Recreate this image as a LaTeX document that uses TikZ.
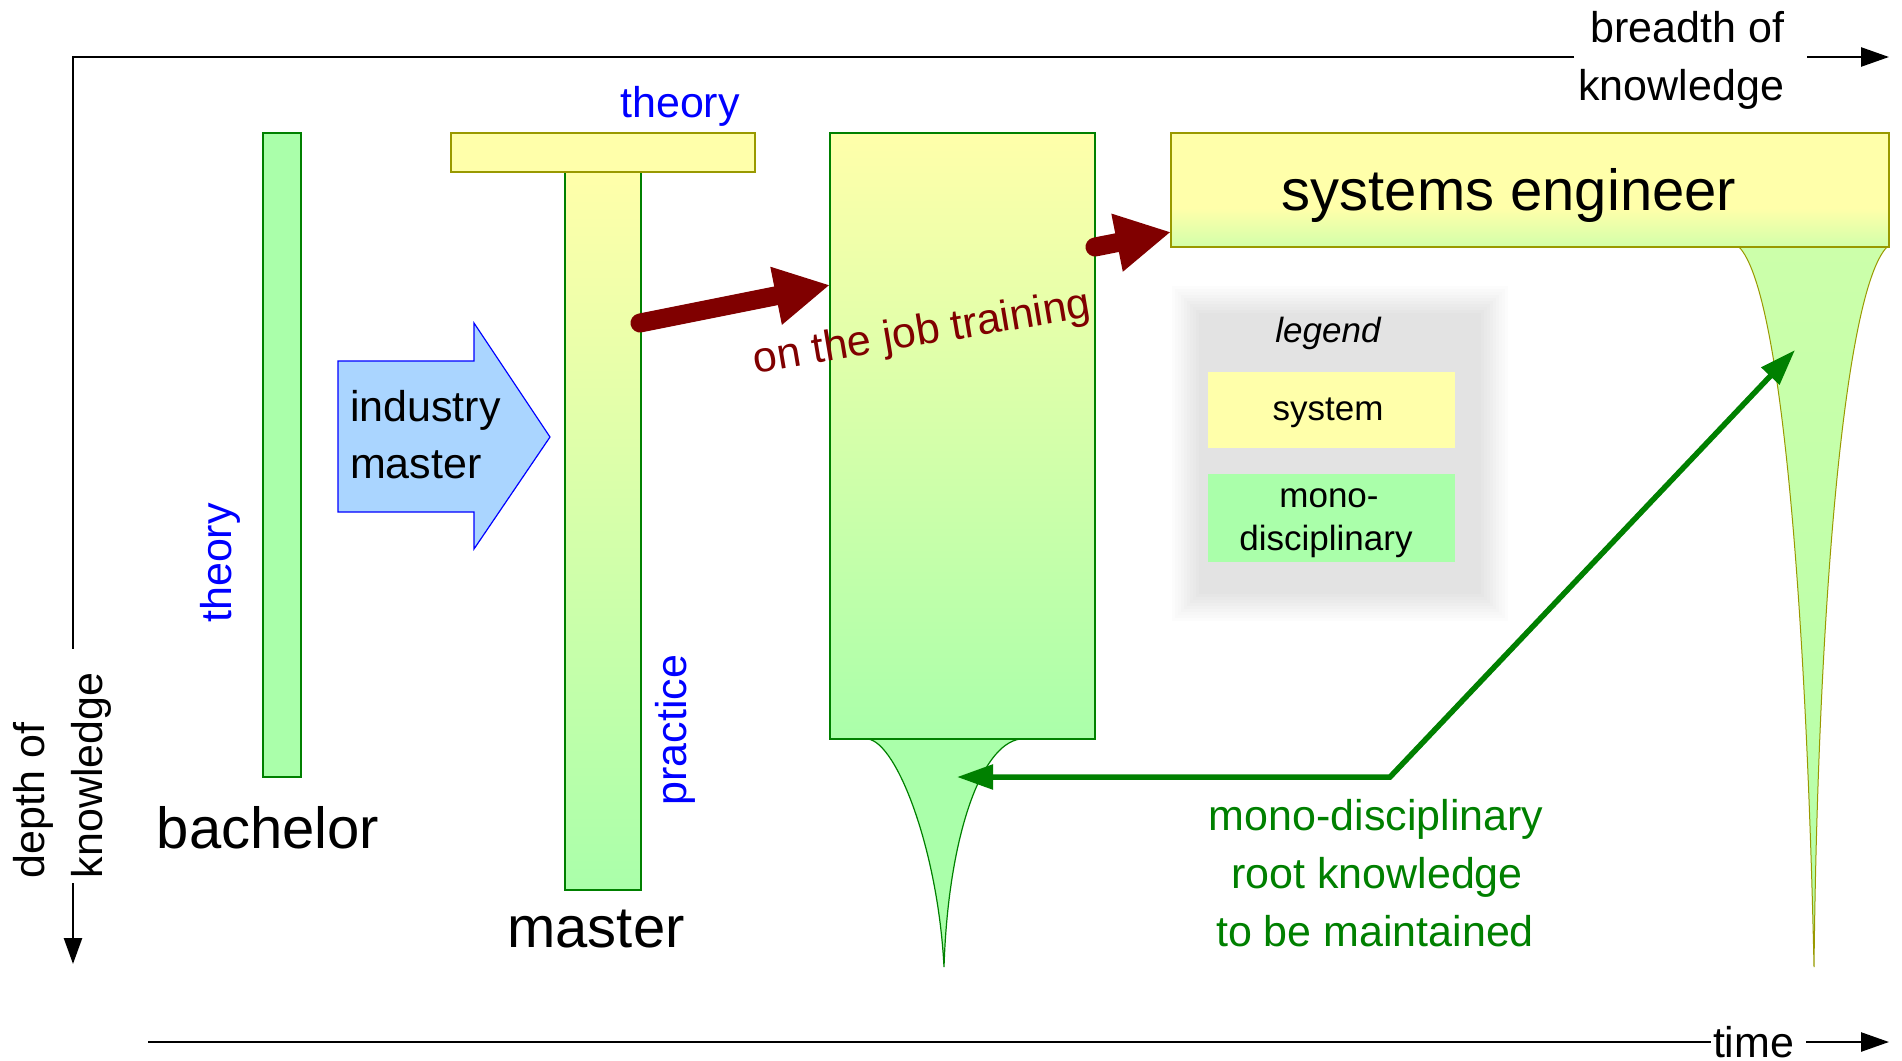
\documentclass[tikz,border=0pt]{standalone}
\usepackage{fontspec}
\setmainfont{Liberation Sans}
\usetikzlibrary{arrows.meta}
\definecolor{lgreen}{HTML}{AAFFAA}
\definecolor{lyellow}{HTML}{FFFFAA}
\definecolor{sgreen}{HTML}{D2FFAA}
\definecolor{rgreen}{HTML}{CCFFAA}
\definecolor{rgreenb}{HTML}{B4FFAA}
\definecolor{dgreen}{HTML}{008000}
\definecolor{olivec}{HTML}{999900}
\definecolor{dred}{HTML}{800000}
\definecolor{lblue}{HTML}{AAD5FF}
\newcommand\myfs[1]{\fontsize{#1}{#1}\selectfont}
\pgfdeclareverticalshading{seshade}{100bp}{color(0bp)=(sgreen); color(25bp)=(sgreen); color(42bp)=(lyellow); color(100bp)=(lyellow)}
\begin{document}
\begin{tikzpicture}[x=1pt,y=-1pt,
  every node/.style={inner sep=0pt,outer sep=0pt},
  lbl/.style={font=\myfs{43}},
  biglbl/.style={font=\myfs{58}},
  leglbl/.style={font=\myfs{35}},
  bluetxt/.style={lbl,text=blue},
  monobar/.style={fill=lgreen,draw=dgreen,line width=1.3pt},
  sysbar/.style={fill=lyellow,draw=olivec,line width=1.5pt},
  gradbar/.style={draw=dgreen,line width=1.3pt,top color=lyellow,bottom color=lgreen},
  sebox/.style={draw=olivec,line width=1.5pt,shading=seshade},
  axisline/.style={line width=2.5pt,draw=black},
  axistip/.style={-{Triangle[length=28pt,width=19pt]}},
  redarrow/.style={draw=dred,line width=19pt,line cap=round,-{Triangle[length=55pt,width=55pt]}},
  greenarrow/.style={draw=dgreen,line width=5.5pt,{Triangle[length=36pt,width=24pt]}-{Triangle[length=36pt,width=24pt]}},
  bluearrow/.style={fill=lblue,draw=blue,line width=1.2pt},
  rootshape/.style={fill=lgreen,draw=dgreen,line width=1.2pt},
  seroot/.style={top color=rgreen,bottom color=rgreenb,draw=olivec,line width=1pt},
]
\fill[white] (0,0) rectangle (1902,1060);
\useasboundingbox (0,0) rectangle (1902,1060);

% ---- legend soft shadow background
\foreach \i in {0,...,9}{
  \pgfmathsetmacro\gl{(\i+1)*1.1}
  \fill[black!\gl] (1172+3*\i,286+3*\i) rectangle (1508-3*\i,621-3*\i);
}

% ---- axes
\coordinate (ax0) at (73,57);
\coordinate (axTopEnd) at (1574,57);
\coordinate (axTopA) at (1807,57);
\coordinate (axTopB) at (1889,57);
\coordinate (axLeftEnd) at (73,649);
\coordinate (axLeftA) at (73,883);
\coordinate (axLeftB) at (73,964);
\coordinate (tA) at (148,1042);
\coordinate (tEnd) at (1711,1042);
\coordinate (tB) at (1806,1042);
\coordinate (tC) at (1889,1042);
\draw[axisline] (axTopEnd) -- (ax0) -- (axLeftEnd);
\draw[axisline,axistip] (axTopA) -- (axTopB);
\draw[axisline,-{Triangle[length=26pt,width=18pt]}] (axLeftA) -- (axLeftB);
\draw[axisline] (tA) -- (tEnd);
\draw[axisline,axistip] (tB) -- (tC);

\node[lbl,anchor=base east] (breadth1) at (1784,42) {breadth of};
\node[lbl,anchor=base east] (breadth2) at (1784,100) {knowledge};
\node[lbl,rotate=90,anchor=base west] (depth1) at (44,878) {depth of};
\node[lbl,rotate=90,anchor=base west] (depth2) at (102,878) {knowledge};
\node[lbl,anchor=base west] (timelbl) at (1713,1057) {time};

% ---- bachelor
\node[monobar,minimum width=38pt,minimum height=644pt,anchor=north west] (bach) at (263,133) {};
\node[bluetxt,rotate=90] (theory1) at (220,563) {theory};
\node[biglbl,anchor=base] (bachlbl) at (268,848) {bachelor};

% ---- industry master arrow
\draw[bluearrow] (338,361) -- (474,361) -- (474,323) -- (550,437) -- (474,549) -- (474,512) -- (338,512) -- cycle;
\node[lbl,anchor=base west] (ind1) at (350,421) {industry};
\node[lbl,anchor=base west] (ind2) at (350,478) {master};

% ---- master T
\node[gradbar,minimum width=76pt,minimum height=718pt,anchor=north west] (stem) at (565,172) {};
\node[sysbar,minimum width=304pt,minimum height=39pt,anchor=north west] (ttop) at (451,133) {};
\node[bluetxt,anchor=base] (theory2) at (680,117) {theory};
\node[bluetxt,rotate=90] (practice) at (675,730) {practice};
\node[biglbl,anchor=base] (masterlbl) at (596,947) {master};

% ---- on the job box
\draw[rootshape] (868,739) .. controls (897,743) and (938,850) .. (944,967) .. controls (948,840) and (980,745) .. (1020,739) -- cycle;
\node[gradbar,minimum width=265pt,minimum height=606pt,anchor=north west] (job) at (830,133) {};

% ---- systems engineer
\draw[seroot] (1739,247) .. controls (1781,290) and (1806,600) .. (1814,967) .. controls (1818,600) and (1845,290) .. (1887,247) -- cycle;
\node[sebox,minimum width=718pt,minimum height=114pt,anchor=north west] (se) at (1171,133) {};
\node[biglbl,anchor=base] (selbl) at (1509,210) {systems engineer};

% ---- red arrows
\coordinate (r1s) at (640,323);
\coordinate (r1e) at (830,285);
\draw[redarrow] (r1s) -- (r1e);
\coordinate (r2s) at (1095,247);
\coordinate (r2e) at (1171,232);
\draw[redarrow] (r2s) -- (r2e);
\node[lbl,text=dred,rotate=9.5,anchor=base] (ojt) at (924,345) {on the job training};

% ---- legend
\node[font=\myfs{35}\itshape,anchor=base] (legt) at (1328,342) {legend};
\node[fill=lyellow,minimum width=247pt,minimum height=76pt,anchor=north west] (legsys) at (1208,372) {};
\node[leglbl,anchor=base] (legsyst) at (1328,420) {system};
\node[fill=lgreen,minimum width=247pt,minimum height=88pt,anchor=north west] (legmono) at (1208,474) {};
\node[leglbl,anchor=base] (legmono1) at (1329,507) {mono-};
\node[leglbl,anchor=base] (legmono2) at (1326,550) {disciplinary};

% ---- green arrow
\coordinate (gL) at (957,777);
\coordinate (gC) at (1390,777);
\coordinate (gR) at (1795,350);
\draw[greenarrow] (gL) -- (gC) -- (gR);
\node[lbl,text=dgreen,anchor=base] (g1) at (1376,830) {mono-disciplinary};
\node[lbl,text=dgreen,anchor=base] (g2) at (1377,888) {root knowledge};
\node[lbl,text=dgreen,anchor=base] (g3) at (1375,946) {to be maintained};
\end{tikzpicture}
\end{document}
